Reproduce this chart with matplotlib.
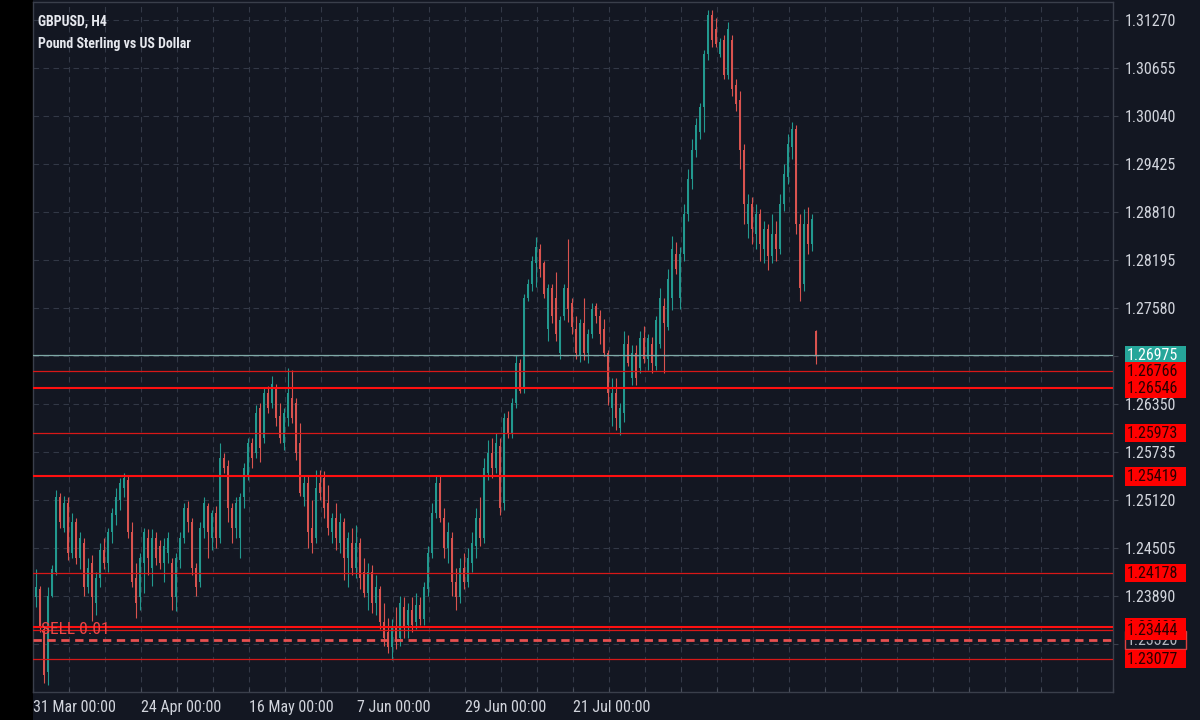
import numpy as np
import matplotlib
matplotlib.use('Agg')
import matplotlib.pyplot as plt
from matplotlib.patches import Rectangle
from matplotlib.transforms import blended_transform_factory
from matplotlib import font_manager

# --- data --------------------------------------------------------------
title_text = 'GBPUSD, H4'
subtitle_text = 'Pound Sterling vs US Dollar'

opens = [
    1.2387, 1.2397, 1.2346, 1.2291, 1.2389, 1.2419, 1.2515, 1.2476, 1.2508, 1.2444,
    1.2483, 1.2437, 1.2457, 1.2400, 1.2431, 1.2380, 1.2412, 1.2447, 1.2431, 1.2470,
    1.2492, 1.2512, 1.2527, 1.2537, 1.2470, 1.2412, 1.2387, 1.2431, 1.2463, 1.2425,
    1.2463, 1.2453, 1.2431, 1.2444, 1.2431, 1.2387, 1.2435, 1.2463, 1.2502, 1.2483,
    1.2425, 1.2406, 1.2476, 1.2504, 1.2463, 1.2495, 1.2463, 1.2566, 1.2555, 1.2502,
    1.2476, 1.2463, 1.2515, 1.2542, 1.2585, 1.2572, 1.2629, 1.2591, 1.2649, 1.2636,
    1.2655, 1.2619, 1.2585, 1.2617, 1.2642, 1.2636, 1.2585, 1.2515, 1.2534, 1.2476,
    1.2463, 1.2534, 1.2540, 1.2508, 1.2470, 1.2489, 1.2457, 1.2483, 1.2437, 1.2457,
    1.2425, 1.2457, 1.2419, 1.2393, 1.2419, 1.2380, 1.2397, 1.2355, 1.2342, 1.2323,
    1.2349, 1.2335, 1.2374, 1.2351, 1.2371, 1.2355, 1.2377, 1.2359, 1.2397, 1.2444,
    1.2495, 1.2534, 1.2489, 1.2450, 1.2463, 1.2406, 1.2387, 1.2425, 1.2406, 1.2431,
    1.2453, 1.2489, 1.2463, 1.2546, 1.2572, 1.2553, 1.2581, 1.2508, 1.2617, 1.2598,
    1.2636, 1.2687, 1.2655, 1.2770, 1.2789, 1.2815, 1.2834, 1.2815, 1.2731, 1.2783,
    1.2770, 1.2700, 1.2747, 1.2783, 1.2764, 1.2731, 1.2696, 1.2738, 1.2700, 1.2725,
    1.2761, 1.2747, 1.2731, 1.2700, 1.2629, 1.2649, 1.2604, 1.2623, 1.2712, 1.2668,
    1.2700, 1.2681, 1.2719, 1.2693, 1.2712, 1.2683, 1.2712, 1.2761, 1.2734, 1.2770,
    1.2827, 1.2770, 1.2827, 1.2878, 1.2923, 1.2961, 1.2984, 1.3015, 1.3083, 1.3134,
    1.3115, 1.3083, 1.3102, 1.3057, 1.3102, 1.3044, 1.3025, 1.2961, 1.2866, 1.2891,
    1.2853, 1.2878, 1.2834, 1.2859, 1.2824, 1.2853, 1.2834, 1.2891, 1.2926, 1.2964,
    1.2987, 1.2866, 1.2789, 1.2866, 1.2840, 1.2728,
]
highs = [
    1.2423, 1.2402, 1.2349, 1.2400, 1.2428, 1.2525, 1.2521, 1.2517, 1.2515, 1.2495,
    1.2489, 1.2470, 1.2463, 1.2437, 1.2441, 1.2419, 1.2457, 1.2463, 1.2476, 1.2502,
    1.2527, 1.2540, 1.2546, 1.2542, 1.2483, 1.2431, 1.2444, 1.2476, 1.2474, 1.2474,
    1.2470, 1.2460, 1.2463, 1.2470, 1.2437, 1.2444, 1.2470, 1.2508, 1.2510, 1.2489,
    1.2431, 1.2483, 1.2515, 1.2508, 1.2499, 1.2504, 1.2585, 1.2572, 1.2563, 1.2508,
    1.2515, 1.2521, 1.2559, 1.2591, 1.2591, 1.2633, 1.2636, 1.2655, 1.2658, 1.2670,
    1.2661, 1.2636, 1.2629, 1.2681, 1.2678, 1.2642, 1.2610, 1.2542, 1.2542, 1.2512,
    1.2550, 1.2550, 1.2549, 1.2531, 1.2495, 1.2508, 1.2495, 1.2489, 1.2470, 1.2476,
    1.2479, 1.2463, 1.2437, 1.2431, 1.2428, 1.2415, 1.2402, 1.2380, 1.2361, 1.2359,
    1.2374, 1.2389, 1.2387, 1.2380, 1.2387, 1.2393, 1.2387, 1.2406, 1.2453, 1.2508,
    1.2542, 1.2544, 1.2502, 1.2483, 1.2470, 1.2425, 1.2437, 1.2444, 1.2450, 1.2470,
    1.2502, 1.2515, 1.2566, 1.2589, 1.2591, 1.2598, 1.2591, 1.2623, 1.2626, 1.2642,
    1.2697, 1.2693, 1.2776, 1.2795, 1.2824, 1.2849, 1.2840, 1.2818, 1.2789, 1.2789,
    1.2804, 1.2747, 1.2789, 1.2846, 1.2770, 1.2748, 1.2744, 1.2770, 1.2731, 1.2764,
    1.2764, 1.2755, 1.2744, 1.2704, 1.2668, 1.2668, 1.2636, 1.2728, 1.2723, 1.2710,
    1.2710, 1.2728, 1.2735, 1.2725, 1.2721, 1.2747, 1.2783, 1.2770, 1.2808, 1.2850,
    1.2843, 1.2836, 1.2891, 1.2936, 1.2974, 1.3002, 1.3021, 1.3089, 1.3140, 1.3140,
    1.3130, 1.3104, 1.3108, 1.3125, 1.3108, 1.3051, 1.3036, 1.2968, 1.2904, 1.2900,
    1.2891, 1.2885, 1.2869, 1.2866, 1.2878, 1.2869, 1.2904, 1.2942, 1.2981, 1.2996,
    1.2993, 1.2878, 1.2885, 1.2887, 1.2878, 1.2729,
]
lows = [
    1.2374, 1.2342, 1.2277, 1.2275, 1.2387, 1.2415, 1.2476, 1.2470, 1.2435, 1.2437,
    1.2429, 1.2423, 1.2389, 1.2393, 1.2356, 1.2364, 1.2400, 1.2423, 1.2419, 1.2457,
    1.2479, 1.2499, 1.2515, 1.2463, 1.2400, 1.2361, 1.2371, 1.2393, 1.2415, 1.2402,
    1.2428, 1.2423, 1.2406, 1.2431, 1.2371, 1.2369, 1.2425, 1.2457, 1.2470, 1.2415,
    1.2389, 1.2400, 1.2463, 1.2437, 1.2447, 1.2450, 1.2457, 1.2546, 1.2483, 1.2457,
    1.2463, 1.2437, 1.2502, 1.2537, 1.2553, 1.2566, 1.2561, 1.2585, 1.2623, 1.2629,
    1.2606, 1.2585, 1.2576, 1.2606, 1.2610, 1.2563, 1.2517, 1.2504, 1.2450, 1.2444,
    1.2457, 1.2512, 1.2489, 1.2467, 1.2457, 1.2447, 1.2444, 1.2409, 1.2400, 1.2415,
    1.2412, 1.2397, 1.2387, 1.2371, 1.2367, 1.2364, 1.2346, 1.2325, 1.2316, 1.2307,
    1.2320, 1.2325, 1.2335, 1.2335, 1.2342, 1.2346, 1.2351, 1.2351, 1.2389, 1.2437,
    1.2489, 1.2483, 1.2437, 1.2431, 1.2389, 1.2371, 1.2380, 1.2397, 1.2400, 1.2419,
    1.2437, 1.2453, 1.2457, 1.2537, 1.2540, 1.2546, 1.2492, 1.2499, 1.2591, 1.2591,
    1.2629, 1.2649, 1.2649, 1.2767, 1.2780, 1.2785, 1.2798, 1.2770, 1.2715, 1.2738,
    1.2716, 1.2693, 1.2742, 1.2740, 1.2725, 1.2693, 1.2689, 1.2691, 1.2687, 1.2719,
    1.2738, 1.2712, 1.2696, 1.2633, 1.2606, 1.2601, 1.2595, 1.2612, 1.2683, 1.2659,
    1.2659, 1.2674, 1.2687, 1.2678, 1.2674, 1.2678, 1.2706, 1.2674, 1.2729, 1.2755,
    1.2802, 1.2757, 1.2818, 1.2869, 1.2910, 1.2951, 1.2974, 1.2984, 1.3076, 1.3093,
    1.3092, 1.3080, 1.3051, 1.3051, 1.3029, 1.3010, 1.2936, 1.2866, 1.2847, 1.2840,
    1.2834, 1.2818, 1.2815, 1.2806, 1.2815, 1.2818, 1.2827, 1.2882, 1.2917, 1.2949,
    1.2853, 1.2767, 1.2780, 1.2827, 1.2831, 1.2686,
]
closes = [
    1.2400, 1.2349, 1.2287, 1.2389, 1.2423, 1.2515, 1.2483, 1.2508, 1.2444, 1.2483,
    1.2437, 1.2463, 1.2400, 1.2425, 1.2387, 1.2412, 1.2447, 1.2431, 1.2470, 1.2495,
    1.2515, 1.2534, 1.2540, 1.2470, 1.2406, 1.2380, 1.2437, 1.2470, 1.2437, 1.2463,
    1.2437, 1.2431, 1.2453, 1.2463, 1.2387, 1.2437, 1.2463, 1.2502, 1.2483, 1.2425,
    1.2400, 1.2476, 1.2508, 1.2470, 1.2495, 1.2463, 1.2566, 1.2553, 1.2502, 1.2476,
    1.2508, 1.2515, 1.2553, 1.2585, 1.2566, 1.2623, 1.2578, 1.2649, 1.2629, 1.2661,
    1.2617, 1.2591, 1.2623, 1.2649, 1.2617, 1.2572, 1.2521, 1.2534, 1.2470, 1.2457,
    1.2527, 1.2521, 1.2502, 1.2476, 1.2489, 1.2463, 1.2483, 1.2437, 1.2463, 1.2425,
    1.2457, 1.2412, 1.2393, 1.2419, 1.2380, 1.2400, 1.2355, 1.2335, 1.2323, 1.2349,
    1.2333, 1.2380, 1.2349, 1.2371, 1.2351, 1.2377, 1.2359, 1.2400, 1.2444, 1.2495,
    1.2534, 1.2489, 1.2450, 1.2470, 1.2406, 1.2387, 1.2425, 1.2406, 1.2437, 1.2457,
    1.2489, 1.2463, 1.2553, 1.2572, 1.2553, 1.2585, 1.2502, 1.2617, 1.2598, 1.2636,
    1.2687, 1.2652, 1.2770, 1.2789, 1.2818, 1.2836, 1.2808, 1.2776, 1.2783, 1.2747,
    1.2725, 1.2742, 1.2783, 1.2757, 1.2734, 1.2700, 1.2738, 1.2700, 1.2725, 1.2757,
    1.2747, 1.2725, 1.2700, 1.2649, 1.2649, 1.2617, 1.2629, 1.2712, 1.2687, 1.2700,
    1.2668, 1.2719, 1.2693, 1.2719, 1.2687, 1.2742, 1.2770, 1.2738, 1.2795, 1.2834,
    1.2808, 1.2827, 1.2878, 1.2923, 1.2961, 1.2993, 1.3015, 1.3083, 1.3134, 1.3102,
    1.3096, 1.3099, 1.3057, 1.3115, 1.3038, 1.3019, 1.2961, 1.2891, 1.2891, 1.2859,
    1.2878, 1.2840, 1.2859, 1.2824, 1.2853, 1.2834, 1.2891, 1.2930, 1.2968, 1.2987,
    1.2866, 1.2783, 1.2866, 1.2840, 1.2872, 1.2698,
]

date_labels = ['31 Mar 00:00', '24 Apr 00:00', '16 May 00:00',
               '7 Jun 00:00', '29 Jun 00:00', '21 Jul 00:00']
price_ticks = [1.31270, 1.30655, 1.30040, 1.29425, 1.28810, 1.28195, 1.27580,
               1.26965, 1.26350, 1.25735, 1.25120, 1.24505, 1.23890, 1.23275]

bid_price = 1.26975
thick_levels = [1.26546, 1.25419, 1.23488]
thin_levels = [1.26766, 1.25973, 1.24178, 1.23444, 1.23077]
entry_price = 1.23320
order_text = 'SELL 0.01'

# --- style -------------------------------------------------------------
bg = '#131722'
grid_c = '#323846'
frame_c = '#3a3f4b'
text_c = '#d1d4dc'
up_c = '#22998f'
down_c = '#d9534f'
level_c = '#ff1010'
thin_c = '#d81818'

names = {f.name for f in font_manager.fontManager.ttflist}
family = 'Roboto Condensed' if 'Roboto Condensed' in names else 'Roboto'
fs = 11.5 if family == 'Roboto Condensed' else 10.5
plt.rcParams['font.family'] = [family, 'DejaVu Sans']

fig = plt.figure(figsize=(12, 7.2), dpi=100, facecolor=bg)
fig.add_artist(Rectangle((0, 0), 33 / 1200, 1, transform=fig.transFigure,
                         facecolor='black', edgecolor='none', zorder=0))
ax = fig.add_axes([33 / 1200, 28 / 720, 1080 / 1200, 690 / 720])
ax.set_facecolor(bg)

o = np.array(opens)
h = np.array(highs)
l = np.array(lows)
c = np.array(closes)
x = np.arange(len(o))
cols = np.where(c >= o, up_c, down_c)

ax.vlines(x, l, h, colors=cols, lw=0.8, zorder=3)
ax.bar(x, np.abs(c - o), bottom=np.minimum(o, c), width=0.55, color=cols,
       linewidth=0, zorder=3)

ylo, yhi = 1.22655, 1.31501
ax.set_ylim(ylo, yhi)
ax.set_xlim(-0.75, 269.25)

# levels
ax.axhline(bid_price, color='#7fa9a6', lw=0.9, zorder=4)
for p in thin_levels:
    ax.axhline(p, color=thin_c, lw=0.9, zorder=4)
for p in thick_levels:
    ax.axhline(p, color=level_c, lw=1.5, zorder=4)
ax.axhline(entry_price, color='#e85050', lw=2.0, ls=(0, (3, 2)), zorder=4)

trans = blended_transform_factory(ax.transAxes, ax.transData)
ax.annotate(order_text, xy=(8 / 1080, thick_levels[-1]), xycoords=trans,
            xytext=(0, -2), textcoords='offset points', va='center', ha='left',
            color='#ee4646', fontsize=12.5, fontweight='normal', zorder=6)

# right-hand price boxes
box_h = 18.5 * (yhi - ylo) / 690
bx0 = (1125 - 33) / 1080
bw = 61 / 1080
tx0 = (1127 - 33) / 1080
boxes = [(bid_price, '#26a69a', 'none', 'white')]
boxes += [(p, '#ff0000', 'none', '#2b0000') for p in [1.26766, 1.26546, 1.25973,
                                                      1.25419, 1.24178, 1.23488]]
boxes += [(entry_price, bg, '#e04040', '#b2b5be')]
boxes += [(p, '#ff0000', 'none', '#2b0000') for p in [1.23444, 1.23077]]
for i, (p, fc, ec, tc) in enumerate(boxes):
    z = 10 + i
    ax.add_patch(Rectangle((bx0, p - box_h / 2), bw, box_h, transform=trans,
                           facecolor=fc, edgecolor=ec, lw=1, clip_on=False, zorder=z))
    ax.text(tx0, p, f'{p:.5f}', transform=trans, va='center', ha='left',
            color=tc, fontsize=fs, clip_on=False, zorder=z + 0.5)

# axes, ticks, grid
ax.yaxis.tick_right()
ax.set_yticks(price_ticks)
# the 1.26965 and 1.23275 labels sit under the price boxes, as in the terminal
covered = (1.26965, 1.23275)
ax.set_yticklabels(['' if p in covered else f'{p:.5f}' for p in price_ticks])
ax.tick_params(axis='y', length=3.6, width=0.8, color=frame_c, pad=4.5,
               labelsize=fs, labelcolor=text_c)
ax.grid(axis='y', which='major', color=grid_c, lw=0.8, ls=(0, (5, 4)))

ax.xaxis.remove_overlapping_locs = False
ax.set_xticks([-0.75 + 27 * m for m in range(len(date_labels))])
ax.set_xticklabels(date_labels)
for lbl in ax.get_xticklabels():
    lbl.set_ha('left')
ax.set_xticks([8.25 + 9 * j for j in range(-1, 30)], minor=True)
ax.tick_params(axis='x', which='major', length=0, pad=6, labelsize=fs,
               labelcolor=text_c)
ax.tick_params(axis='x', which='minor', direction='in', length=3, width=0.8,
               color='#4a4f5c')
ax.grid(axis='x', which='minor', color=grid_c, lw=0.8, ls=(0, (5, 4)))
ax.set_axisbelow(True)

for s in ax.spines.values():
    s.set_color(frame_c)
    s.set_linewidth(1)

ax.text(5 / 1080, 1 - 20 / 690, title_text, transform=ax.transAxes, va='center',
        ha='left', color='#e6e8ee', fontsize=10, fontweight='bold', zorder=8)
ax.text(5 / 1080, 1 - 42 / 690, subtitle_text, transform=ax.transAxes, va='center',
        ha='left', color='#e6e8ee', fontsize=10, fontweight='bold', zorder=8)

fig.savefig('out.png', dpi=100, facecolor=fig.get_facecolor())
